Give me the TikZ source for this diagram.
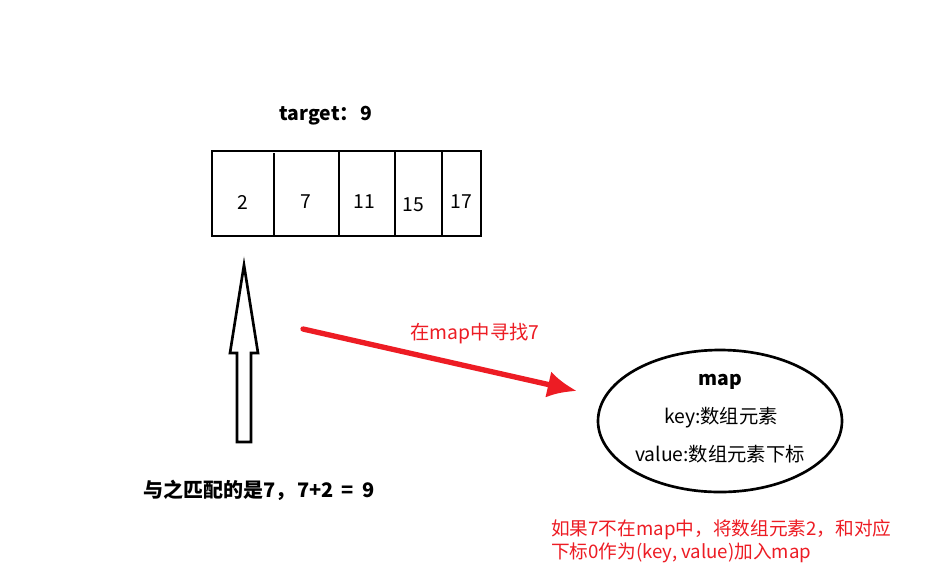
\documentclass[tikz,border=0pt]{standalone}
\usepackage{fontspec}
\usetikzlibrary{arrows.meta}
\setmainfont{Noto Sans CJK SC}
\newfontfamily\cjk{Noto Sans CJK SC}
\definecolor{redline}{RGB}{237,28,36}
\begin{document}
\begin{tikzpicture}[x=0.75pt,y=-0.75pt,
  txt/.style={inner sep=0pt,font=\cjk\fontsize{14.5}{16}\selectfont},
  btxt/.style={inner sep=0pt,font=\cjk\bfseries\fontsize{14.5}{16}\selectfont},
  rtxt/.style={inner sep=0pt,text=redline,font=\cjk\fontsize{14}{17.5}\selectfont,align=left},
  cell/.style={line width=2.2pt}]
\useasboundingbox (0,0) rectangle (949,587);
\fill[white] (0,0) rectangle (949,587);
% array
\draw[cell] (212,151) rectangle (481,236);
\draw[cell] (274,153) -- (274,236);
\draw[cell] (339,151) -- (339,236);
\draw[cell] (395,151) -- (395,236);
\draw[cell] (442,151) -- (442,236);
\node[btxt] (tgt) at (326,116) {target：\hspace{1pt}9};
\node[txt] (c1) at (243,202) {2};
\node[txt] (c2) at (306,202) {7};
\node[txt] (c3) at (364,202) {11};
\node[txt] (c4) at (413,205) {15};
\node[txt] (c5) at (461,202) {17};
% hollow arrow
\draw[line width=2pt,line join=miter] (244,265) -- (258,353) -- (251,353) -- (251,442) -- (237,442) -- (237,353) -- (230,353) -- cycle;
\node[btxt,font=\cjk\bfseries\fontsize{15}{16}\selectfont] (match) at (259,490) {与之匹配的是7，\hspace{1pt}7+2\hspace{6pt}=\hspace{6pt}9};
% red arrow
\coordinate (rs) at (303,329);
\coordinate (re) at (577,391);
\draw[redline,line width=4pt,line cap=round,-{Latex[length=22pt,width=20pt]}] (rs) -- (re);
\node[txt,text=redline] (find) at (475,334) {在map中寻找7};
% map ellipse
\draw[line width=2pt] (720,421) ellipse [x radius=122,y radius=71];
\node[btxt] (map) at (720,382) {map};
\node[txt] (key) at (721,418) {key:数组元素};
\node[txt] (val) at (720,454) {value:数组元素下标};
\node[rtxt,anchor=north west] (note) at (551,519) {如果7不在map中，将数组元素2，和对应\\下标0作为(key, value)加入map};
\end{tikzpicture}
\end{document}
